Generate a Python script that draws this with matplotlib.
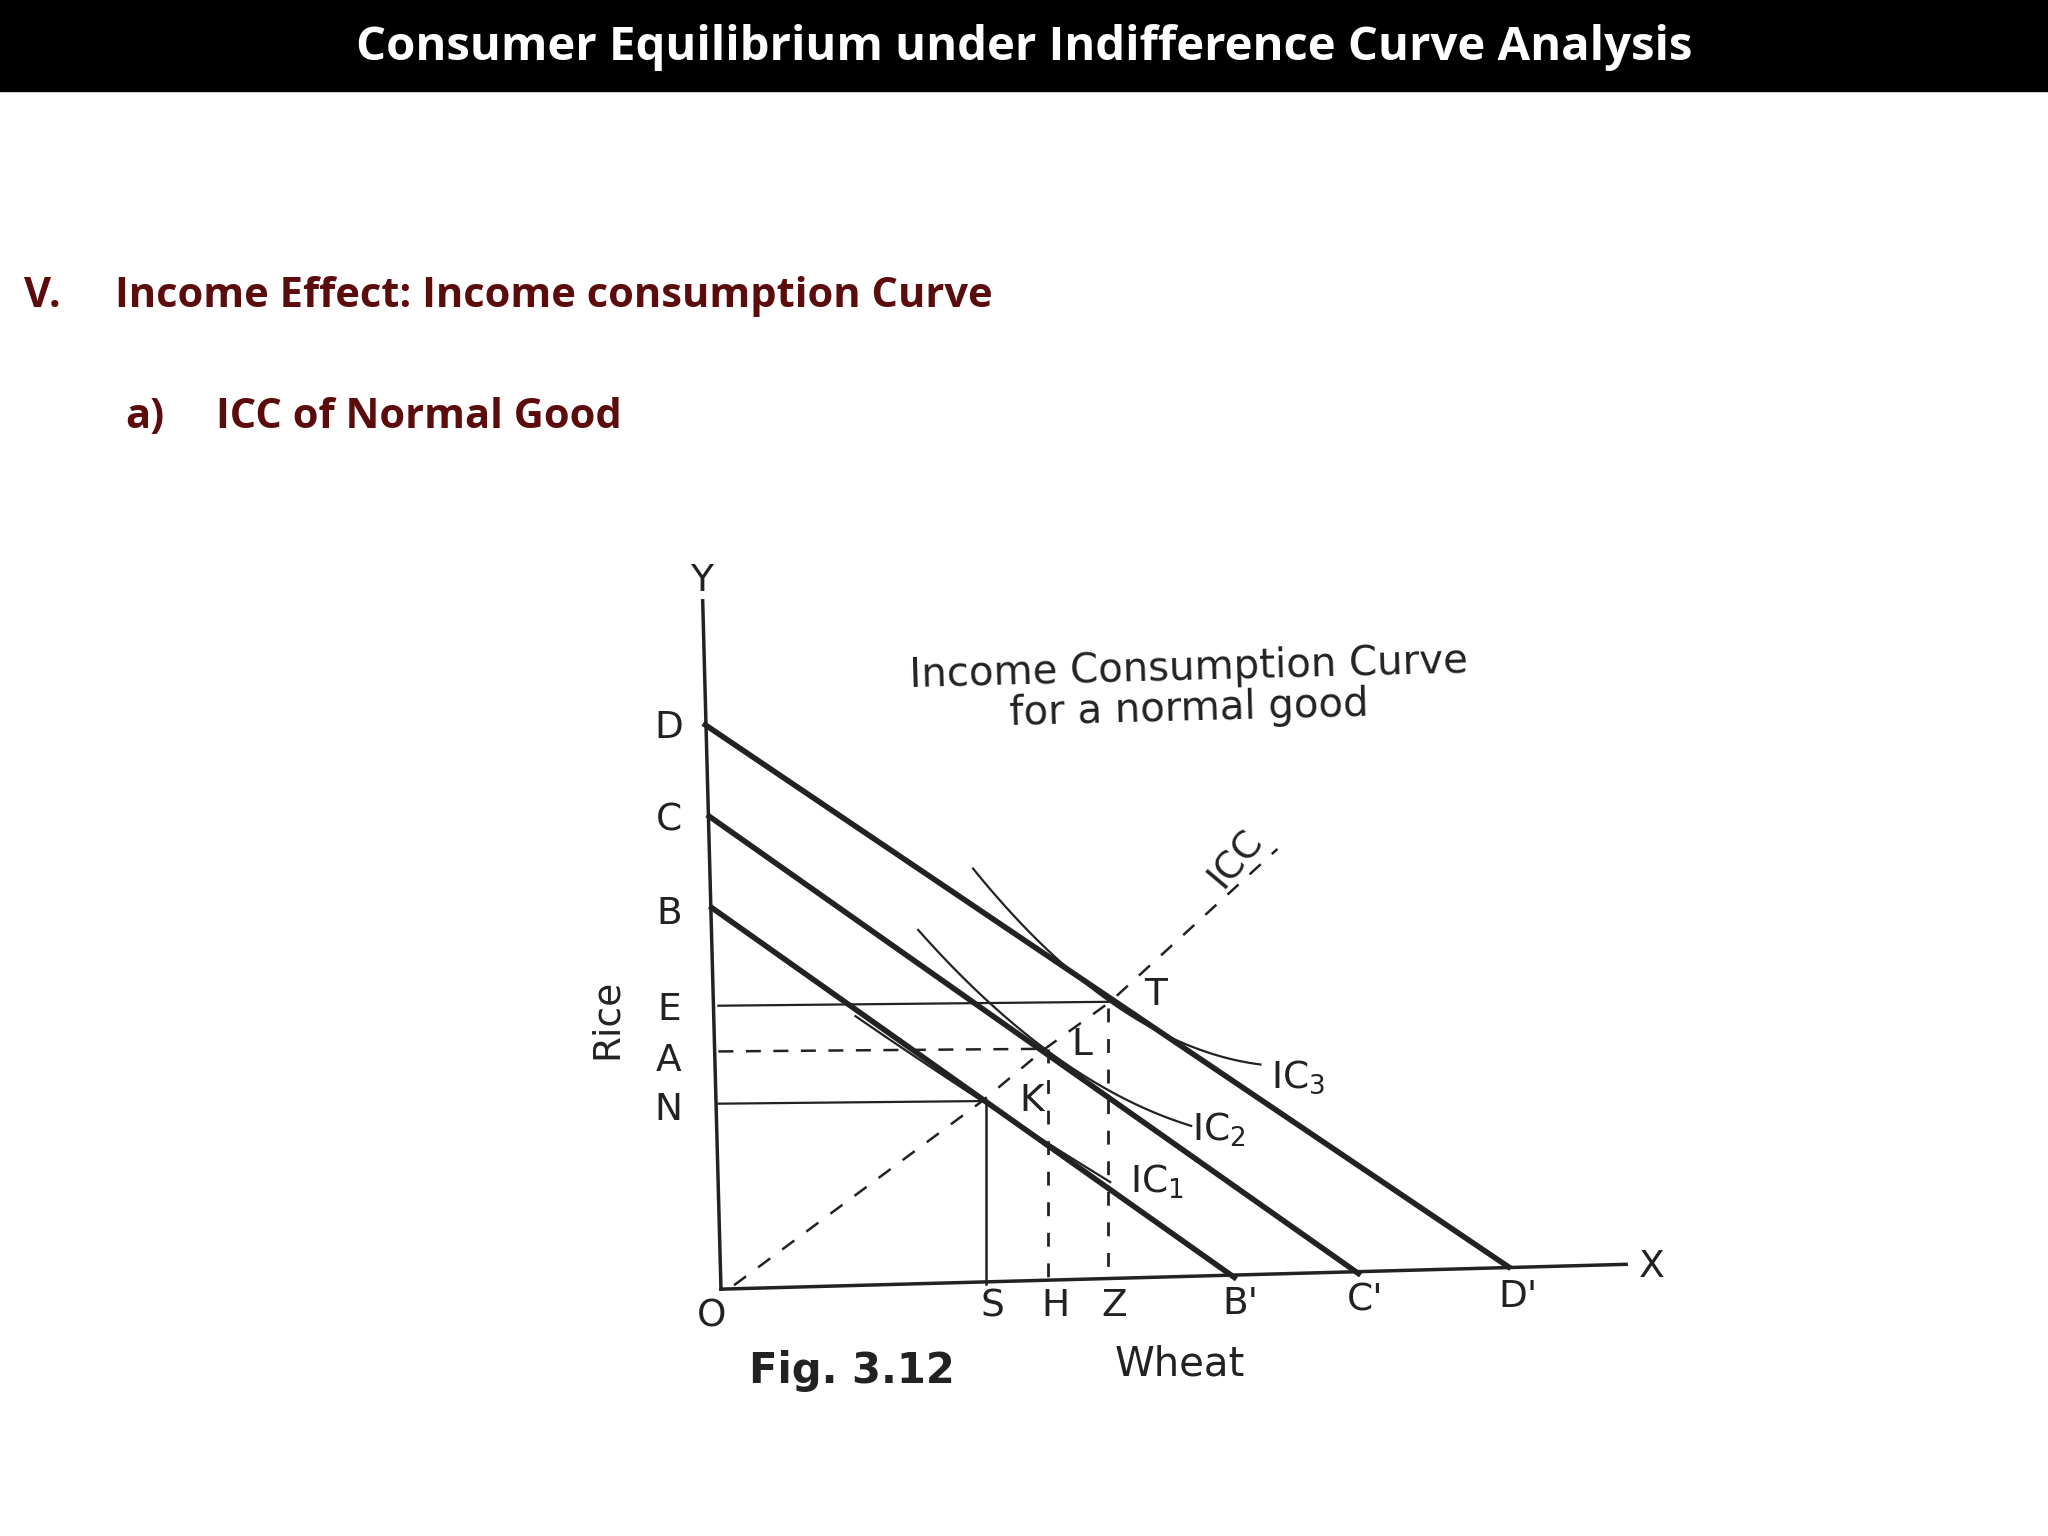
import matplotlib.pyplot as plt
import numpy as np

# diagram coordinates (pixel space of a 1568x1176 slide, y downwards)
origin = (557, 987)
x_axis_end = (1245, 968)
y_axis_top = (538, 460)
budget_lines = {"B": ((545, 695), (945, 978)),
                "C": ((543, 625), (1040, 975)),
                "D": ((540, 555), (1155, 970))}
eq_points = {"K": (752, 843), "L": (800, 803), "T": (850, 767)}
ic_curves = {"IC$_1$": [(655, 778), (752, 843), (850, 905)],
             "IC$_2$": [(703, 712), (800, 803), (912, 862)],
             "IC$_3$": [(745, 665), (850, 767), (965, 815)]}
icc_end = (978, 650)

fig = plt.figure(figsize=(20.48, 15.36), dpi=100)
ax = fig.add_axes([0, 0, 1, 1])
ax.set_xlim(0, 1568)
ax.set_ylim(1176, 0)
ax.axis("off")

# header band
ax.fill_between([0, 1568], 0, 70, color="black")
ax.text(784, 36, "Consumer Equilibrium under Indifference Curve Analysis", color="white",
        fontsize=34, fontweight="bold", family="Open Sans", ha="center", va="center")
red = "#5c0c0c"
hfs = 30
ax.text(18, 227, "V.", color=red, fontsize=hfs, fontweight="bold", family="Open Sans", va="center")
ax.text(88, 227, "Income Effect: Income consumption Curve", color=red, fontsize=hfs,
        fontweight="bold", family="Open Sans", va="center")
ax.text(96, 320, "a)", color=red, fontsize=hfs, fontweight="bold", family="Open Sans", va="center")
ax.text(165, 320, "ICC of Normal Good", color=red, fontsize=hfs, fontweight="bold",
        family="Open Sans", va="center")

ink = "#222222"
# axes
ax.plot([y_axis_top[0], origin[0] - 5], [y_axis_top[1], origin[1]], color=ink, lw=2.5)
ax.plot([origin[0] - 5, x_axis_end[0]], [origin[1], x_axis_end[1]], color=ink, lw=2.5)

for name, (p, q) in budget_lines.items():
    ax.plot([p[0], q[0]], [p[1], q[1]], color=ink, lw=4)

for name, pts in ic_curves.items():
    xs, ys = zip(*pts)
    c = np.polyfit(xs, ys, 2)
    xx = np.linspace(xs[0], xs[-1], 100)
    ax.plot(xx, np.polyval(c, xx), color=ink, lw=1.6)

K, L, T = eq_points["K"], eq_points["L"], eq_points["T"]
# horizontals
ax.plot([550, T[0]], [T[1] + 3, T[1]], color=ink, lw=1.6)
ax.plot([550, L[0]], [L[1] + 2, L[1]], color=ink, lw=1.8, ls=(0, (6, 5)))
ax.plot([550, K[0]], [K[1] + 2, K[1]], color=ink, lw=1.6)
# verticals
ax.plot([K[0] + 3, K[0] + 3], [K[1], 983], color=ink, lw=1.8)
ax.plot([L[0] + 2, L[0] + 2], [L[1], 983], color=ink, lw=2, ls=(0, (5, 6)))
ax.plot([T[0] - 2, T[0] - 2], [T[1] + 5, 982], color=ink, lw=2, ls=(0, (5, 6)))
# ICC
ax.plot([origin[0] + 5, K[0], L[0], T[0], icc_end[0]],
        [origin[1] - 3, K[1], L[1], T[1], icc_end[1]], color=ink, lw=1.8, ls=(0, (6, 6)))

fs = 27
for lbl, y in zip("DCBEAN", [557, 628, 700, 773, 812, 850]):
    ax.text(512, y, lbl, fontsize=fs, color=ink, ha="center", va="center")
ax.text(465, 780, "Rice", fontsize=fs, color=ink, rotation=90, ha="center", va="center")
ax.text(537, 445, "Y", fontsize=fs, color=ink, ha="center", va="center")
ax.text(1265, 970, "X", fontsize=fs, color=ink, ha="center", va="center")
ax.text(545, 1008, "O", fontsize=fs, color=ink, ha="center", va="center")
for lbl, x, y in [("S", 760, 1000), ("H", 808, 1000), ("Z", 853, 1000),
                  ("B'", 950, 998), ("C'", 1045, 996), ("D'", 1162, 993)]:
    ax.text(x, y, lbl, fontsize=fs, color=ink, ha="center", va="center")
ax.text(903, 1045, "Wheat", fontsize=fs + 2, color=ink, ha="center", va="center")
ax.text(652, 1050, "Fig. 3.12", fontsize=fs + 3, color=ink, fontweight="bold", ha="center", va="center")
ax.text(910, 512, "Income Consumption Curve", fontsize=fs + 2, color=ink, ha="center", va="center", rotation=1.5)
ax.text(910, 543, "for a normal good", fontsize=fs + 2, color=ink, ha="center", va="center", rotation=1.5)
ax.text(885, 762, "T", fontsize=fs, color=ink, ha="center", va="center")
ax.text(828, 800, "L", fontsize=fs, color=ink, ha="center", va="center")
ax.text(790, 843, "K", fontsize=fs, color=ink, ha="center", va="center")
ax.text(946, 658, "ICC", fontsize=fs, color=ink, ha="center", va="center", rotation=50)
ax.text(973, 825, "IC$_3$", fontsize=fs, color=ink, va="center")
ax.text(913, 865, "IC$_2$", fontsize=fs, color=ink, va="center")
ax.text(865, 905, "IC$_1$", fontsize=fs, color=ink, va="center")

fig.savefig("out.png", dpi=100)
